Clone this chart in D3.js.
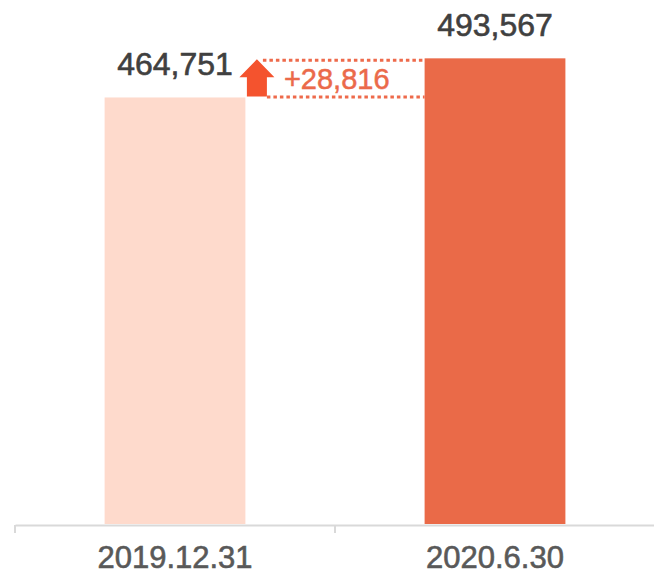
<!DOCTYPE html>
<html>
<head>
<meta charset="utf-8">
<script src="https://cdn.jsdelivr.net/npm/d3@7"></script>
<style>
  body { margin: 0; background: #fff; }
  text { font-family: "Liberation Sans", Arial, sans-serif; }
</style>
</head>
<body>
<svg id="chart" width="654" height="573"></svg>
<script>
// period-end totals
const periods = ["2019.12.31", "2020.6.30"];
const totals = [464751, 493567];
const valueLabels = ["464,751", "493,567"];
const barColors = ["#fedacc", "#ea6a48"];
const deltaLabel = "+28,816";

const W = 654, H = 573;
const axisY = 525;               // baseline of the bars
const svg = d3.select("#chart");

const x = d3.scaleBand().domain(periods).range([15, 655])
    .paddingInner(0.56).paddingOuter(0.28);
const y = d3.scaleLinear().domain([150000, 500000]).range([axisY, 49.6]);

// bars
svg.selectAll("rect.bar").data(periods).enter().append("rect")
   .attr("class", "bar")
   .attr("x", d => x(d))
   .attr("y", (d, i) => y(totals[i]))
   .attr("width", x.bandwidth())
   .attr("height", (d, i) => axisY - 1 - y(totals[i]))
   .attr("fill", (d, i) => barColors[i]);

// value labels over bars
svg.selectAll("text.val").data(periods).enter().append("text")
   .attr("class", "val")
   .attr("x", d => x(d) + x.bandwidth() / 2)
   .attr("y", (d, i) => y(totals[i]) - 22)
   .attr("text-anchor", "middle")
   .attr("font-size", 32)
   .attr("fill", "#404040")
   .attr("stroke", "#404040").attr("stroke-width", 0.6)
   .text((d, i) => valueLabels[i]);

// x axis
const axis = svg.append("g").attr("transform", "translate(0," + axisY + ")")
   .call(d3.axisBottom(x).tickSize(0).tickSizeOuter(0).tickPadding(20.5));
axis.select(".domain").attr("stroke", "#d9d9d9").attr("stroke-width", 2);
axis.selectAll(".tick text")
   .attr("font-size", 31).attr("fill", "#595959")
   .attr("stroke", "#595959").attr("stroke-width", 0.6)
   .attr("font-family", "'Liberation Sans', Arial, sans-serif");

// category boundary ticks
const step = x.step();
const bounds = d3.range(periods.length + 1).map(i => x.range()[0] + i * step);
svg.selectAll("line.bnd").data(bounds).enter().append("line")
   .attr("class", "bnd")
   .attr("x1", d => d).attr("x2", d => d)
   .attr("y1", axisY).attr("y2", axisY + 8)
   .attr("stroke", "#d9d9d9").attr("stroke-width", 2);

// change marker between the two bar tops
const x1r = x(periods[0]) + x.bandwidth();
const x2l = x(periods[1]);
const yTop = y(totals[1]), yLow = y(totals[0]);
const ax = x1r + 11.5;           // arrow centre

svg.append("line")
   .attr("x1", ax + 6).attr("x2", x2l)
   .attr("y1", yTop + 2).attr("y2", yTop + 2)
   .attr("stroke", "#ee6a4b").attr("stroke-width", 3)
   .attr("stroke-dasharray", "3.5,3");
svg.append("line")
   .attr("x1", ax + 10).attr("x2", x2l)
   .attr("y1", yLow - 0.5).attr("y2", yLow - 0.5)
   .attr("stroke", "#ee6a4b").attr("stroke-width", 3)
   .attr("stroke-dasharray", "3.5,3");

const headBase = yTop + 19;
svg.append("path")
   .attr("d", "M" + ax + "," + (yTop + 1) +
              " L" + (ax + 17.5) + "," + headBase +
              " L" + (ax + 10) + "," + headBase +
              " L" + (ax + 10) + "," + (yLow - 1) +
              " L" + (ax - 10) + "," + (yLow - 1) +
              " L" + (ax - 10) + "," + headBase +
              " L" + (ax - 17.5) + "," + headBase + " Z")
   .attr("fill", "#f4532e");

svg.append("text")
   .attr("x", ax + 27).attr("y", yLow - 8)
   .attr("font-size", 29)
   .attr("fill", "#eb6a4a")
   .attr("stroke", "#eb6a4a").attr("stroke-width", 0.5)
   .text(deltaLabel);
</script>
</body>
</html>
